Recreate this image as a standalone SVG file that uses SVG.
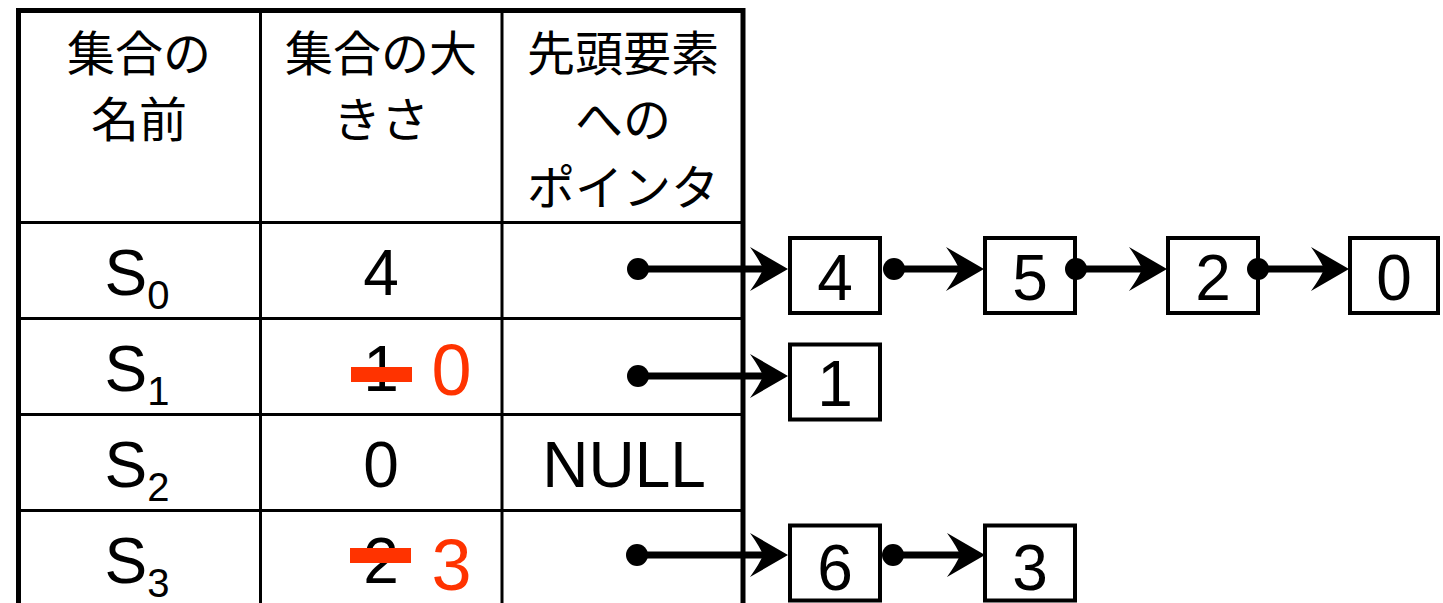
<svg xmlns="http://www.w3.org/2000/svg" xmlns:xlink="http://www.w3.org/1999/xlink" width="1443" height="603" viewBox="0 0 1443 603">
<style>
.bg{fill:#fff}
.outer{stroke:#000;stroke-width:5;fill:none}
.inner{stroke:#000;stroke-width:3;fill:none}
.hd{font-family:"Noto Sans CJK JP","Noto Sans CJK SC",sans-serif;font-size:48px;fill:#000;text-anchor:middle}
.tx{font-family:"Liberation Sans",Arial,sans-serif;font-size:64px;fill:#000;text-anchor:middle}
.red{font-family:"Liberation Sans",Arial,sans-serif;font-size:72px;fill:#ff3300;text-anchor:middle}
.strike{fill:#ff3300}
.box rect{fill:#fff;stroke:#000;stroke-width:4}
.shaft{stroke:#000;stroke-width:7;fill:none}
</style>
<defs>
<path id="ah" d="M0,0 L-38,-22 Q-28,-8 -25,0 Q-28,8 -38,22 Z" fill="#000"/>
<circle id="dt" r="11" fill="#000"/>
</defs>
<rect class="bg" x="0" y="0" width="1443" height="603"/>
<g id="table">
<line class="inner" x1="260.5" y1="10" x2="260.5" y2="603"/>
<line class="inner" x1="502" y1="10" x2="502" y2="603"/>
<line class="inner" x1="18" y1="222.5" x2="743" y2="222.5"/>
<line class="inner" x1="18" y1="318.5" x2="743" y2="318.5"/>
<line class="inner" x1="18" y1="414.5" x2="743" y2="414.5"/>
<line class="inner" x1="18" y1="510.5" x2="743" y2="510.5"/>
<path class="outer" d="M18.5,603 V10.5 H743 V603"/>
<text class="hd"><tspan x="139" y="71">集合の</tspan><tspan x="139" y="137">名前</tspan></text>
<text class="hd"><tspan x="381" y="71">集合の大</tspan><tspan x="381" y="137">きさ</tspan></text>
<text class="hd"><tspan x="623" y="71">先頭要素</tspan><tspan x="623" y="137">への</tspan><tspan x="623" y="205">ポインタ</tspan></text>
<text class="tx" x="137" y="295">S<tspan font-size="40" dy="14">0</tspan></text>
<text class="tx" x="137" y="391">S<tspan font-size="40" dy="14">1</tspan></text>
<text class="tx" x="137" y="487">S<tspan font-size="40" dy="14">2</tspan></text>
<text class="tx" x="137" y="583">S<tspan font-size="40" dy="14">3</tspan></text>
<text class="tx" x="381" y="295">4</text>
<text class="tx" x="381" y="391">1</text>
<rect class="strike" x="351" y="367" width="61" height="15"/>
<text class="red" x="451.5" y="395">0</text>
<text class="tx" x="381" y="487">0</text>
<text class="tx" x="624" y="487">NULL</text>
<text class="tx" x="381" y="583">2</text>
<rect class="strike" x="350" y="548" width="61" height="15"/>
<text class="red" x="451.5" y="590">3</text>
</g>
<g id="n4" class="box"><rect x="790" y="238" width="90" height="75"/><text class="tx" x="835" y="300">4</text></g>
<g id="n5" class="box"><rect x="985" y="238" width="90" height="75"/><text class="tx" x="1030" y="300">5</text></g>
<g id="n2" class="box"><rect x="1168" y="238" width="90" height="75"/><text class="tx" x="1213" y="300">2</text></g>
<g id="n0" class="box"><rect x="1350" y="238" width="88" height="75"/><text class="tx" x="1394" y="300">0</text></g>
<g id="n1" class="box"><rect x="790" y="344.5" width="90" height="75"/><text class="tx" x="835" y="406">1</text></g>
<g id="n6" class="box"><rect x="790" y="525.5" width="90" height="75"/><text class="tx" x="835" y="590">6</text></g>
<g id="n3" class="box"><rect x="985" y="525.5" width="90" height="75"/><text class="tx" x="1030" y="590">3</text></g>
<g id="connectors">
<line class="shaft" x1="638" y1="269" x2="770" y2="269"/><use xlink:href="#dt" x="638" y="269"/><use xlink:href="#ah" x="788" y="269"/>
<line class="shaft" x1="894" y1="269" x2="966" y2="269"/><use xlink:href="#dt" x="894" y="269"/><use xlink:href="#ah" x="984" y="269"/>
<line class="shaft" x1="1076" y1="269" x2="1149" y2="269"/><use xlink:href="#dt" x="1076" y="269"/><use xlink:href="#ah" x="1167" y="269"/>
<line class="shaft" x1="1258" y1="269" x2="1331" y2="269"/><use xlink:href="#dt" x="1258" y="269"/><use xlink:href="#ah" x="1349" y="269"/>
<line class="shaft" x1="638" y1="376" x2="770" y2="376"/><use xlink:href="#dt" x="638" y="376"/><use xlink:href="#ah" x="788" y="376"/>
<line class="shaft" x1="637" y1="555" x2="770" y2="555"/><use xlink:href="#dt" x="637" y="555"/><use xlink:href="#ah" x="788" y="555"/>
<line class="shaft" x1="893" y1="555" x2="967" y2="555"/><use xlink:href="#dt" x="893" y="555"/><use xlink:href="#ah" x="985" y="555"/>
</g>
</svg>
